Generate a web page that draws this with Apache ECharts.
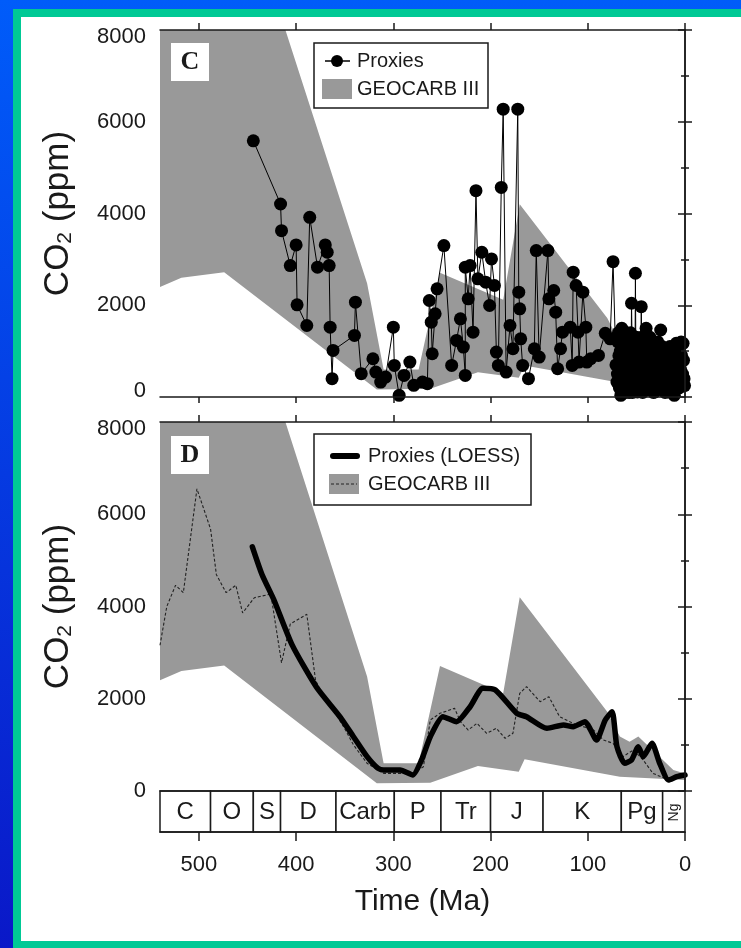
<!DOCTYPE html>
<html>
<head>
<meta charset="utf-8">
<title>CO2 proxies vs GEOCARB III</title>
<script src="https://cdn.jsdelivr.net/npm/echarts@6/dist/echarts.min.js"></script>
<style>
    html, body { margin: 0; padding: 0; overflow: hidden; }
    body { width: 741px; height: 948px; position: relative;
           background: linear-gradient(to bottom, #005cfa, #0a18c8); }
    #frame { position: absolute; left: 13px; top: 9px; right: -30px; bottom: 0; background: #00c995; }
    #panel { position: absolute; left: 21px; top: 17px; right: -30px; bottom: 7px; background: #fff; }
    #container { position: absolute; left: 0; top: 0; width: 741px; height: 948px; }
</style>
</head>
<body>
<div id="frame"></div>
<div id="panel"></div>
<div id="container"></div>
<script>
// Ma, ppm
var proxyPoints = [
    [444,5585],[416,4207],[415,3626],[406,2865],[400,3315],[399,2009],[389,1559],[386,3917],
    [378,2829],[370,3315],[368,3155],[366,2865],[365,1523],[363,399],[362,1015],[340,1342],
    [339,2067],[333,508],[321,834],[318,544],[313,326],[308,435],[300,1523],[299,689],
    [294,36],[289,471],[283,762],[279,254],[270,326],[265,290],[263,2103],[261,1632],
    [260,943],[257,1813],[255,2357],[248,3300],[240,689],[235,1233],[231,1704],[228,1088],
    [226,471],[226,2829],[223,2140],[221,2865],[218,1414],[215,4497],[213,2575],[209,3155],
    [205,2502],[201,1995],[199,3010],[196,2430],[194,979],[192,689],[189,4569],[187,6274],
    [184,544],[180,1559],[177,1052],[172,6274],[171,2285],[170,1922],[169,1269],[167,689],
    [161,399],[155,1052],[153,3191],[150,870],[141,3191],[140,2140],[135,2321],[133,1850],
    [131,616],[128,1052],[126,1414],[118,1523],[116,689],[115,2720],[112,2430],[110,1414],
    [109,762],[105,2285],[102,1523],[101,762],[97,834],[89,907],[82,1389],[77,1269],
    [74,2950],[71,700],[70,326],[69,1200],[68,900],[67,600],[66,36],[65,1497],[64,300],[63,1100],
    [62,1300],[61,762],[60,200],[59,1052],[58,800],[57,400],[56,1400],[55,2043],[54,100],[53,1200],
    [52,700],[51,2697],[50,1300],[49,109],[48,400],[47,979],[46,1200],[45,1969],[44,300],[43,500],
    [42,181],[41,1000],[40,1497],[39,800],[38,200],[37,689],[36,1300],[35,1124],[34,500],[33,300],
    [32,900],[31,109],[30,400],[29,700],[28,1200],[27,979],[26,300],[25,1461],[24,800],[23,400],
    [22,1000],[21,544],[20,300],[19,150],[18,700],[17,109],[16,500],[15,834],[14,1000],[13,300],
    [12,200],[11,36],[10,600],[9,1170],[8,700],[7,544],[6,200],[5,800],[4,1197],[3,300],
    [2,1170],[1,399],[0.5,250]
];

// the dense Cenozoic blob, read as a filled cloud
var proxyCluster = [
    [69.5,500],[68.5,1400],[67.5,200],[66.5,1000],[65.5,700],[64.5,1300],[63.5,500],[62.5,900],
    [61.5,100],[60.5,1400],[59.5,500],[58.5,1200],[57.5,100],[56.5,900],[55.5,600],[54.5,1300],
    [53.5,400],[52.5,1100],[51.5,300],[50.5,800],[49.5,1100],[48.5,700],[47.5,300],[46.5,600],
    [45.5,900],[44.5,1300],[43.5,100],[42.5,800],[41.5,400],[40.5,1100],[39.5,300],[38.5,900],
    [37.5,1200],[36.5,600],[35.5,200],[34.5,900],[33.5,1200],[32.5,100],[31.5,700],[30.5,1100],
    [29.5,200],[28.5,500],[27.5,300],[26.5,1100],[25.5,700],[24.5,200],[23.5,1100],[22.5,500],
    [21.5,900],[20.5,100],[19.5,1000],[18.5,400],[17.5,900],[16.5,200],[15.5,1100],[14.5,500],
    [13.5,800],[12.5,1000],[11.5,400],[10.5,900],[9.5,300],[8.5,1000],[7.5,200],[6.5,900],
    [5.5,400],[4.5,600],[3.5,900],[2.5,500],[1.5,800]
];

var loessPoints = [
    [445,5295],[435,4690],[423,4152],[404,3162],[379,2248],[355,1611],[341,1177],[327,744],
    [316,495],[310,455],[293,455],[280,347],[271,672],[262,1177],[249,1611],[235,1503],
    [221,1828],[208,2227],[195,2190],[173,1684],[163,1611],[142,1359],[125,1431],[115,1394],
    [103,1503],[91,1106],[82,1539],[75,1720],[70,960],[62,600],[55,672],[48,960],
    [43,744],[34,1034],[26,600],[17,238],[8.5,310],[0,347]
];

var geocarbMid = [
    [540,3160],[533,4000],[524,4460],[516,4300],[502,6550],[488,5680],[482,4690],[472,4300],
    [462,4460],[455,3860],[443,4190],[426,4270],[415,2780],[406,3620],[389,3830],[380,2400],
    [372,2050],[360,1700],[350,1350],[341,1000],[327,600],[310,383],[280,383],[269,527],
    [262,1539],[252,1684],[237,1793],[231,1503],[223,1322],[214,1467],[204,1251],[194,1359],
    [185,1142],[177,1251],[170,2118],[163,2262],[149,1936],[140,2045],[129,1611],[115,1467],
    [94,1322],[84,1106],[74,1034],[64,744],[53,889],[43,672],[33,383],[21,275],[0,310]
];

var geocarbUpper = [
    [540,8000],[411,8000],[327,2480],[310,600],[274,600],[252,2710],[187,2120],[170,4200],
    [80,1720],[67,1180],[57,1070],[48,1180],[12,455],[0,380]
];
var geocarbLower = [
    [540,2400],[518,2600],[474,2720],[317,166],[262,180],[213,542],[171,419],[165,687],
    [67,310],[0,238]
];

var periodNames  = ['C', 'O', 'S', 'D', 'Carb', 'P', 'Tr', 'J', 'K', 'Pg', 'Ng'];
var periodStarts = [540, 488, 444, 416, 359, 299, 251, 200, 146, 65.5, 23];
var periodEnds   = [488, 444, 416, 359, 299, 251, 200, 146, 65.5, 23, 0];

var timeTicks = [0, 100, 200, 300, 400, 500];

var FONT = "'Liberation Sans', Arial, Helvetica, sans-serif";
var INK = '#1a1a1a';
var GRAY = '#999999';

var proxySeries = proxyPoints.concat(proxyCluster).sort(function(a, b){ return b[0] - a[0]; });

function xAx(grid, pos, tickLen, extra){
    var a = {
        gridIndex: grid, type: 'value', position: pos,
        min: 0, max: 540, interval: 100, inverse: true, z: 10,
        axisLine: {show: true, onZero: false, lineStyle: {color: INK, width: 1.5}},
        axisTick: {show: tickLen > 0, length: tickLen, customValues: timeTicks, lineStyle: {color: INK, width: 1.5}},
        axisLabel: {show: false},
        splitLine: {show: false}
    };
    for (var k in extra) a[k] = extra[k];
    return a;
}

function yAx(grid, pos, labels){
    return {
        gridIndex: grid, type: 'value', position: pos,
        min: 0, max: 8000, interval: 2000, z: 10,
        axisLine: {show: true, lineStyle: {color: INK, width: 1.5}},
        axisTick: {length: 7, lineStyle: {color: INK, width: 1.5}},
        minorTick: {show: true, splitNumber: 2, length: 4, lineStyle: {color: INK, width: 1.5}},
        splitLine: {show: false},
        axisLabel: {
            show: labels, fontSize: 22, fontFamily: FONT, color: INK, margin: 14,
            formatter: function(v){
                if (v === 8000) return '{t|8000}';
                if (v === 0 && grid === 0) return '{b|0}';
                return String(v);
            },
            rich: {
                t: {fontSize: 22, fontFamily: FONT, color: INK, padding: [14, 0, 0, 0]},
                b: {fontSize: 22, fontFamily: FONT, color: INK, padding: [0, 0, 12, 0]}
            }
        },
        name: labels ? 'CO{sub|2} (ppm)' : '',
        nameLocation: 'middle',
        nameGap: 84,
        nameTextStyle: {
            fontSize: 35, fontFamily: FONT, color: INK,
            rich: {sub: {fontSize: 21, fontFamily: FONT, color: INK, padding: [14, 0, 0, 0]}}
        }
    };
}

function bandItem(params, api){
    var pts = [];
    for (var i = 0; i < geocarbUpper.length; i++) pts.push(api.coord(geocarbUpper[i]));
    for (var j = geocarbLower.length - 1; j >= 0; j--) pts.push(api.coord(geocarbLower[j]));
    return {type: 'polygon', shape: {points: pts}, style: {fill: GRAY}};
}

function periodItem(params, api){
    var a = api.coord([api.value(0), 0]);
    var b = api.coord([api.value(1), 1]);
    var name = periodNames[api.value(2)];
    var cx = (a[0] + b[0]) / 2, cy = (a[1] + b[1]) / 2;
    var small = name === 'Ng';
    return {
        type: 'group',
        children: [
            {type: 'rect', shape: {x: a[0], y: b[1], width: b[0] - a[0], height: a[1] - b[1]},
             style: {fill: '#fff', stroke: INK, lineWidth: 1.5}},
            {type: 'text', x: cx, y: cy + 1, rotation: small ? Math.PI / 2 : 0,
             style: {text: name, x: 0, y: 0, align: 'center', verticalAlign: 'middle',
                     fontSize: small ? 14 : 24, fontFamily: FONT, fill: INK}}
        ]
    };
}

var periodData = [];
for (var i = 0; i < periodNames.length; i++){
    periodData.push([periodStarts[i], periodEnds[i], i]);
}

// legend boxes + panel letters
function txt(x, y, s, size){
    return {type: 'text', x: x, y: y, z: 101,
            style: {text: s, fontSize: size, fontFamily: FONT, fill: INK, align: 'left', verticalAlign: 'middle'}};
}
function letter(y, s){
    return [
        {type: 'rect', z: 100, shape: {x: 171, y: y - 19, width: 38, height: 38}, style: {fill: '#fff'}},
        {type: 'text', x: 190, y: y, z: 101, style: {text: s, fontSize: 26, fontWeight: 'bold',
            fontFamily: "'Liberation Serif', 'Times New Roman', serif", fill: INK, align: 'center', verticalAlign: 'middle'}}
    ];
}
var graphics = letter(62, 'C').concat(letter(455, 'D')).concat([
    {type: 'rect', z: 100, shape: {x: 314, y: 43, width: 174, height: 65}, style: {fill: '#fff', stroke: INK, lineWidth: 1.5}},
    {type: 'line', z: 101, shape: {x1: 325, y1: 61, x2: 350, y2: 61}, style: {stroke: '#000', lineWidth: 1.5}},
    {type: 'circle', z: 101, shape: {cx: 337, cy: 61, r: 6}, style: {fill: '#000'}},
    {type: 'rect', z: 101, shape: {x: 322, y: 79, width: 30, height: 20}, style: {fill: GRAY}},
    txt(357, 61, 'Proxies', 20),
    txt(357, 89, 'GEOCARB III', 20),

    {type: 'rect', z: 100, shape: {x: 314, y: 434, width: 217, height: 71}, style: {fill: '#fff', stroke: INK, lineWidth: 1.5}},
    {type: 'line', z: 101, shape: {x1: 333, y1: 456, x2: 357, y2: 456}, style: {stroke: '#000', lineWidth: 6, lineCap: 'round'}},
    {type: 'rect', z: 101, shape: {x: 329, y: 474, width: 30, height: 20}, style: {fill: GRAY}},
    {type: 'line', z: 102, shape: {x1: 331, y1: 484, x2: 357, y2: 484}, style: {stroke: '#222', lineWidth: 1, lineDash: [3, 2]}},
    txt(368, 456, 'Proxies (LOESS)', 20),
    txt(368, 484, 'GEOCARB III', 20)
]);

var myChart = echarts.init(document.getElementById('container'), null, {renderer: 'canvas'});
var option = {
    animation: false,
    grid: [
        {left: 160, top: 30, width: 525, height: 367},
        {left: 160, top: 422, width: 525, height: 369},
        {left: 160, top: 791, width: 525, height: 41}
    ],
    xAxis: [
        xAx(0, 'bottom', 6),
        xAx(0, 'top', 7),
        xAx(1, 'top', 7),
        xAx(1, 'bottom', 0),
        xAx(2, 'bottom', 9, {
            axisLabel: {show: true, fontSize: 22, fontFamily: FONT, color: INK, margin: 22, customValues: timeTicks},
            name: 'Time (Ma)', nameLocation: 'middle', nameGap: 55,
            nameTextStyle: {fontSize: 30, fontFamily: FONT, color: INK}
        })
    ],
    yAxis: [
        yAx(0, 'left', true),
        yAx(0, 'right', false),
        yAx(1, 'left', true),
        yAx(1, 'right', false),
        {gridIndex: 2, type: 'value', min: 0, max: 1, show: false}
    ],
    graphic: graphics,
    series: [
        {type: 'custom', xAxisIndex: 0, yAxisIndex: 0, clip: true, data: [[0, 0]], renderItem: bandItem, silent: true},
        {type: 'line', xAxisIndex: 0, yAxisIndex: 0, data: proxySeries,
         symbol: 'circle', symbolSize: 13, showAllSymbol: true,
         itemStyle: {color: '#000'}, lineStyle: {color: '#000', width: 1}},

        {type: 'custom', xAxisIndex: 2, yAxisIndex: 2, clip: true, data: [[0, 0]], renderItem: bandItem, silent: true},
        {type: 'line', xAxisIndex: 2, yAxisIndex: 2, data: geocarbMid, symbol: 'none',
         lineStyle: {color: '#222', width: 1.1, type: [3, 2]}},
        {type: 'line', xAxisIndex: 2, yAxisIndex: 2, data: loessPoints, symbol: 'none', smooth: 0.2,
         lineStyle: {color: '#000', width: 5.5, join: 'round', cap: 'round'}},

        {type: 'custom', xAxisIndex: 4, yAxisIndex: 4, data: periodData, renderItem: periodItem}
    ]
};
myChart.setOption(option);
</script>
</body>
</html>
